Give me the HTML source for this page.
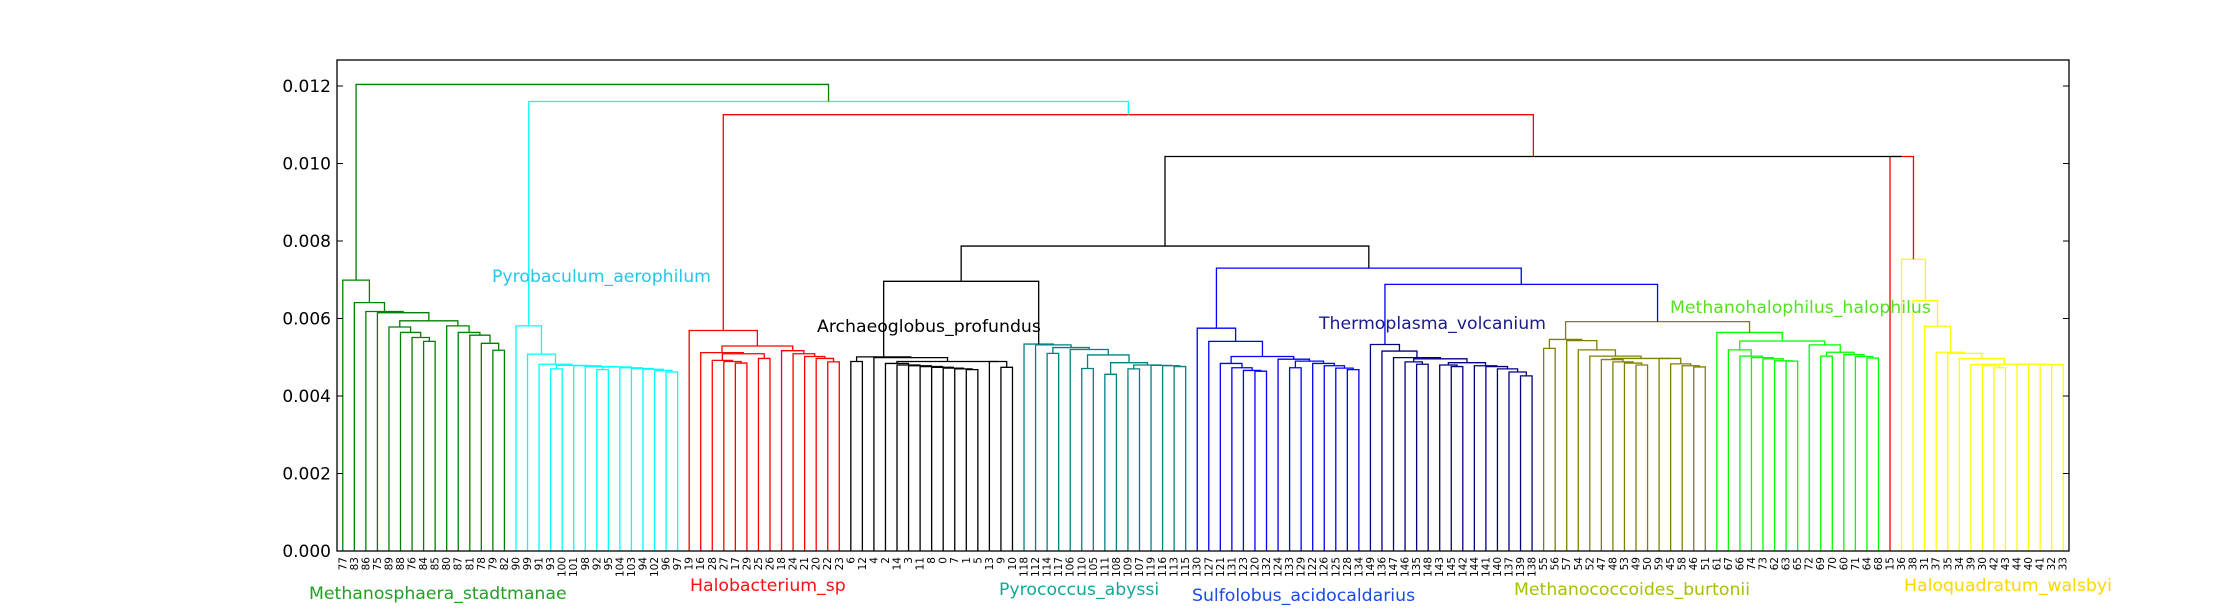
<!DOCTYPE html>
<html><head><meta charset="utf-8"><title>Archaea dendrogram</title>
<style>
html,body{margin:0;padding:0;background:#fff;}
svg{display:block;font-family:"DejaVu Sans","Liberation Sans",sans-serif;}
</style></head>
<body>
<svg id="chart" width="2233" height="612" viewBox="0 0 2233 612" xmlns="http://www.w3.org/2000/svg">
<rect x="0" y="0" width="2233" height="612" fill="#fff"/>
<g id="links"></g>
<g id="axes"></g>
<g id="labels"></g>
<g id="clabels"></g>
</svg>
<script>
// ---- data: clusters as nested [height, left, right]; leaves are sample ids ----
const greenCluster = [0.00699, 77, [0.00641, 83, [0.00618, 86, [0.00615, 75, [0.00594,
  [0.00578, 89, [0.00564, 88, [0.00551, 76, [0.00541, 84, 85]]]],
  [0.00581, 80, [0.00564, 87, [0.00557, 81, [0.00536, 78, [0.00518, 79, 82]]]]]]]]]];
const cyanCluster = [0.00581, 90, [0.00508, 99, [0.00482, 91, [0.00479, [0.00470, 93, 100],
  [0.00478, 101, [0.00476, 98, [0.00475, [0.00468, 92, 95], [0.00473, 104, [0.00471, 103, [0.00469, 94, [0.00466, 102, [0.00462, 96, 97]]]]]]]]]]]];
const redCluster = [0.00569, 19, [0.00529,
  [0.00512, 16, [0.00509, [0.00492, 28, [0.00489, 27, [0.00485, 17, 29]]], [0.00497, 25, 26]]],
  [0.00517, 18, [0.00509, 24, [0.00502, 21, [0.00497, 20, [0.00488, 22, 23]]]]]]];
const blackCluster = [0.00501, [0.00489, 6, 12], [0.00499, 4, [0.00489,
  [0.00484, 2, [0.00480, 14, [0.00478, 3, [0.00476, 11, [0.00474, 8, [0.00472, 0, [0.00470, 7, [0.00468, 1, 5]]]]]]]],
  [0.00489, 13, [0.00474, 9, 10]]]]];
const tealCluster = [0.00534, 118, [0.00532, 112, [0.00525, [0.00510, 114, 117],
  [0.00520, 106, [0.00506, [0.00471, 110, 105], [0.00486, [0.00456, 111, 108],
  [0.00480, [0.00470, 109, 107], [0.00479, 119, [0.00478, 116, [0.00476, 113, 115]]]]]]]]]];
const blueCluster = [0.00575, 130, [0.00541, 127, [0.00502,
  [0.00484, 121, [0.00473, 131, [0.00466, 123, [0.00464, 120, 132]]]],
  [0.00495, 124, [0.00490, [0.00473, 133, 129], [0.00484, 122, [0.00478, 126, [0.00472, 125, [0.00468, 128, 134]]]]]]]]];
const navyCluster = [0.00533, 149, [0.00516, 136, [0.00499, 147, [0.00496,
  [0.00488, 146, [0.00482, 135, 148]],
  [0.00486, [0.00480, 143, [0.00476, 145, 142]], [0.00478, 144, [0.00476, 141, [0.00470, 140, [0.00462, 137, [0.00452, 139, 138]]]]]]]]]];
const oliveCluster = [0.00546, [0.00523, 55, 56], [0.00543, 57, [0.00519, 54, [0.00503, 52, [0.00497,
  [0.00494, 47, [0.00488, 48, [0.00485, 53, [0.00480, 49, 50]]]],
  [0.00497, 59, [0.00483, 45, [0.00478, 58, [0.00475, 46, 51]]]]]]]]];
const limeCluster = [0.00564, 61, [0.00542,
  [0.00519, 67, [0.00503, 66, [0.00499, 74, [0.00496, 73, [0.00491, 62, [0.00490, 63, 65]]]]]],
  [0.00532, 72, [0.00513, [0.00503, 69, 70], [0.00507, 60, [0.00502, 71, [0.00498, 64, 68]]]]]]];
const yellowCluster = [0.00753, 36, [0.00646, 38, [0.00580, 31, [0.00513, 37, [0.00510, 35, [0.00497, 34, [0.00482,
  [0.00481, 39, [0.00478, 30, [0.00473, 42, 43]]],
  [0.00482, 44, [0.00482, 40, [0.00481, 41, [0.00481, 32, 33]]]]]]]]]]];
// top-level merge heights
const topHeights = [0.01204, 0.01160, 0.01126, 0.01018, 0.00787, 0.00696, 0.00730, 0.00688, 0.00592, 0.01018];
const clusterColors = ["#008000","#00ffff","#ff0000","#000000","#008080","#0000ff","#000080","#808000","#00ff00","#ffff00"];
const yTicks = [0, 0.002, 0.004, 0.006, 0.008, 0.010, 0.012];
const yTickLabels = ["0.000","0.002","0.004","0.006","0.008","0.010","0.012"];
const clusterNames = ["Methanosphaera_stadtmanae","Pyrobaculum_aerophilum","Halobacterium_sp","Archaeoglobus_profundus","Pyrococcus_abyssi","Sulfolobus_acidocaldarius","Thermoplasma_volcanium","Methanococcoides_burtonii","Methanohalophilus_halophilus","Haloquadratum_walsbyi"];
const clusterNameColors = ["#22a022","#22c8e6","#ff1010","#000000","#11a898","#1a4ae8","#1a1a8c","#a8c000","#55e020","#ffd500"];

// ---- geometry ----
const L = 337, R = 2069, T = 60, B = 551;
const yMax = (B - T) / 38750;
const NLEAF = 150;
function yS(v){ return B - v / yMax * (B - T); }
function xS(i){ return L + (i + 0.5) * (R - L) / NLEAF; }

function N(h, a, b, c){ return {h:h, a:a, b:b, c:c}; }
function wrap(t, c){
  if (typeof t === 'number') return {leaf:t};
  return N(t[0], wrap(t[1], c), wrap(t[2], c), c);
}
const G = wrap(greenCluster, clusterColors[0]), C = wrap(cyanCluster, clusterColors[1]),
  Rd = wrap(redCluster, clusterColors[2]), K = wrap(blackCluster, clusterColors[3]),
  Te = wrap(tealCluster, clusterColors[4]), Bl = wrap(blueCluster, clusterColors[5]),
  Nv = wrap(navyCluster, clusterColors[6]), Ol = wrap(oliveCluster, clusterColors[7]),
  Li = wrap(limeCluster, clusterColors[8]), Ye = wrap(yellowCluster, clusterColors[9]);
const tree = N(topHeights[0], G, N(topHeights[1], C, N(topHeights[2], Rd, N(topHeights[3],
  N(topHeights[4], N(topHeights[5], K, Te, "#000"), N(topHeights[6], Bl, N(topHeights[7], Nv, N(topHeights[8], Ol, Li, "#808000"), "#0000ff"), "#0000ff"), "#000"),
  N(topHeights[9], {leaf:15}, Ye, "#ff0000"), "#000"), "#ff0000"), "#00ffff"), "#008000");

const NS = "http://www.w3.org/2000/svg";
const gL = document.getElementById('links');
const gLab = document.getElementById('labels');
let idx = 0;
function layout(n){
  if (n.leaf !== undefined){
    const x = xS(idx++);
    const t = document.createElementNS(NS, 'text');
    
    
    t.setAttribute('transform', 'translate(' + (x + 3.5) + ',557) rotate(-90)');
    t.setAttribute('text-anchor', 'end');
    t.setAttribute('font-size', '10.5');
    t.setAttribute('fill', '#000');
    t.textContent = String(n.leaf);
    gLab.appendChild(t);
    return {x:x, h:0};
  }
  const a = layout(n.a), b = layout(n.b);
  const p = document.createElementNS(NS, 'polyline');
  
  
  p.setAttribute('points', a.x + ',' + yS(a.h) + ' ' + a.x + ',' + yS(n.h) + ' ' + b.x + ',' + yS(n.h) + ' ' + b.x + ',' + yS(b.h));
  p.setAttribute('fill', 'none');
  p.setAttribute('stroke', n.c);
  p.setAttribute('stroke-width', '1.3');
  gL.appendChild(p);
  return {x:(a.x + b.x) / 2, h:n.h};
}
layout(tree);

// axes
const gA = document.getElementById('axes');
const frame = document.createElementNS(NS, 'rect');


frame.setAttribute('x', L); frame.setAttribute('y', T);
frame.setAttribute('width', R - L); frame.setAttribute('height', B - T);
frame.setAttribute('fill', 'none'); frame.setAttribute('stroke', '#000'); frame.setAttribute('stroke-width', '1.3');
gA.appendChild(frame);
yTicks.forEach(function(v, i){
  const y = yS(v);
  const t1 = document.createElementNS(NS, 'path');
  
  
  t1.setAttribute('d', 'M' + L + ',' + y + 'h6M' + R + ',' + y + 'h-6');
  t1.setAttribute('stroke', '#000'); t1.setAttribute('stroke-width', '1');
  gA.appendChild(t1);
  const tx = document.createElementNS(NS, 'text');
  
  
  tx.setAttribute('x', 331); tx.setAttribute('y', y + 6);
  tx.setAttribute('text-anchor', 'end'); tx.setAttribute('font-size', '17');
  tx.textContent = yTickLabels[i];
  gA.appendChild(tx);
});

// cluster name labels
const clabelX = [309, 492, 690, 817, 999, 1192, 1319, 1514, 1670, 1904];
const clabelY = [599, 282, 591, 332, 595, 601, 329, 595, 313, 591];
const gC = document.getElementById('clabels');
clusterNames.forEach(function(nm, i){
  const t = document.createElementNS(NS, 'text');
  
  
  t.setAttribute('x', clabelX[i]); t.setAttribute('y', clabelY[i]);
  t.setAttribute('font-size', '17.3');
  t.setAttribute('fill', clusterNameColors[i]);
  t.textContent = nm;
  gC.appendChild(t);
});
</script>
</body></html>
